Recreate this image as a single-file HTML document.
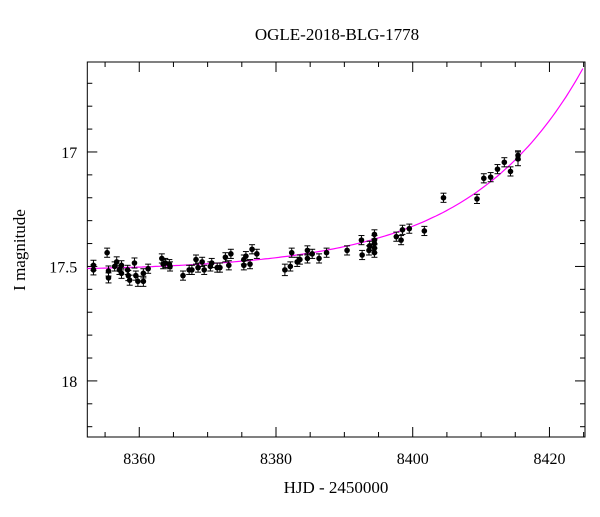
<!DOCTYPE html>
<html><head><meta charset="utf-8"><style>
body{margin:0;background:#fff}
svg text{font-family:"Liberation Serif",serif;fill:#000}
</style></head><body>
<svg id="chart" width="600" height="512">
<text x="337" y="40" text-anchor="middle" font-size="17">OGLE-2018-BLG-1778</text>
<text x="336" y="493" text-anchor="middle" font-size="17">HJD - 2450000</text>
<text transform="translate(25,250) rotate(-90)" text-anchor="middle" font-size="17">I magnitude</text>
<g id="axes"></g><g id="model"></g><g id="points"></g>
</svg>
<script>
const xTicks=[8360,8380,8400,8420];
const yTicks=[17,17.5,18];
const hjd=[8353.3,8353.3,8355.3,8355.5,8355.5,8356.4,8356.7,8357.1,8357.4,8357.4,8358.3,8358.4,8358.6,8359.3,8359.5,8359.8,8360.6,8360.6,8361.3,8363.3,8363.5,8363.8,8364.4,8364.5,8366.4,8367.3,8367.7,8368.3,8368.6,8369.2,8369.5,8370.4,8370.6,8371.4,8371.8,8372.6,8373.1,8373.4,8375.3,8375.3,8375.6,8376.2,8376.5,8377.2,8381.3,8382.1,8382.3,8383.1,8383.5,8384.6,8384.6,8385.3,8386.3,8387.4,8390.4,8392.5,8392.6,8393.6,8393.7,8394.4,8394.4,8394.4,8394.4,8394.4,8397.6,8398.3,8398.5,8399.5,8401.7,8404.5,8409.4,8410.4,8411.4,8412.4,8413.4,8414.3,8415.4,8415.4];
const mag=[17.495,17.515,17.44,17.52,17.55,17.5,17.48,17.515,17.495,17.53,17.515,17.54,17.56,17.485,17.54,17.565,17.53,17.565,17.51,17.465,17.49,17.485,17.49,17.5,17.54,17.515,17.515,17.47,17.505,17.48,17.515,17.5,17.485,17.505,17.505,17.46,17.495,17.445,17.47,17.495,17.455,17.49,17.425,17.445,17.515,17.5,17.44,17.48,17.47,17.43,17.465,17.445,17.465,17.44,17.43,17.385,17.45,17.43,17.41,17.36,17.385,17.4,17.42,17.44,17.37,17.385,17.34,17.335,17.345,17.2,17.205,17.115,17.11,17.075,17.045,17.085,17.015,17.03];
const err=[0.022,0.022,0.02,0.022,0.022,0.02,0.022,0.02,0.02,0.022,0.02,0.022,0.022,0.022,0.02,0.022,0.02,0.022,0.02,0.02,0.02,0.02,0.02,0.02,0.02,0.02,0.02,0.02,0.02,0.02,0.02,0.02,0.02,0.02,0.02,0.02,0.02,0.02,0.02,0.02,0.02,0.02,0.02,0.02,0.025,0.02,0.02,0.02,0.02,0.02,0.02,0.02,0.02,0.02,0.02,0.02,0.02,0.02,0.02,0.02,0.02,0.02,0.02,0.02,0.02,0.02,0.02,0.02,0.02,0.02,0.02,0.02,0.02,0.02,0.02,0.02,0.02,0.03];
const X0=87.3,X1=585,T0=8352.4,T1=8425.2,Y0=62,Y1=437,M0=16.607,M1=18.245;
const sx=t=>X0+(t-T0)/(T1-T0)*(X1-X0);
const sy=m=>Y0+(m-M0)/(M1-M0)*(Y1-Y0);
const NS="http://www.w3.org/2000/svg";
function mk(tag,parent,attrs){const e=document.createElementNS(NS,tag);for(const k in attrs)e.setAttribute(k,attrs[k]);parent.appendChild(e);return e;}
const axes=document.getElementById('axes');
const frame=mk('rect',axes,{x:X0,y:Y0,width:X1-X0,height:Y1-Y0,fill:'none',stroke:'#000','stroke-width':1});


for(let t=8355;t<=8425;t+=5){const x=sx(t);const L=(t%20===0)?10:5;
 const a=mk('line',axes,{x1:x,x2:x,y1:Y1,y2:Y1-L,stroke:'#000'});
 
 
 const b=mk('line',axes,{x1:x,x2:x,y1:Y0,y2:Y0+L,stroke:'#000'});
 
 }
xTicks.forEach(t=>{const e=mk('text',axes,{x:sx(t),y:Y1+27,'text-anchor':'middle','font-size':16});e.textContent=t;
 
 });
for(let i=17;i<=183;i++){const m=i/10;if(m<M0||m>M1)continue;const y=sy(m);const L=(i%5===0)?10:5;
 const a=mk('line',axes,{x1:X0,x2:X0+L,y1:y,y2:y,stroke:'#000'});
 
 
 const b=mk('line',axes,{x1:X1,x2:X1-L,y1:y,y2:y,stroke:'#000'});
 
 }
yTicks.forEach(m=>{const e=mk('text',axes,{x:X0-10,y:sy(m)+6,'text-anchor':'end','font-size':16});e.textContent=(m===17.5?'17.5':String(m));
 
 });
// model curve
let d='';for(let t=T0;t<=T1+0.01;t+=0.5){const m=17.52-0.89*Math.exp((t-8425)/16.5);d+=(d?'L':'M')+sx(t).toFixed(1)+','+sy(m).toFixed(1);}
const model=mk('path',document.getElementById('model'),{d:d,fill:'none',stroke:'#ff00ff','stroke-width':1.2});


const pts=document.getElementById('points');
hjd.forEach((t,i)=>{const x=sx(t),y=sy(mag[i]),ya=sy(mag[i]-err[i]),yb=sy(mag[i]+err[i]);
 const g=mk('g',pts,{});
 
 
 mk('line',g,{x1:x,x2:x,y1:ya,y2:yb,stroke:'#000'});
 mk('line',g,{x1:x-3,x2:x+3,y1:ya,y2:ya,stroke:'#000'});
 mk('line',g,{x1:x-3,x2:x+3,y1:yb,y2:yb,stroke:'#000'});
 mk('circle',g,{cx:x,cy:y,r:2.8,fill:'#000'});});
</script>
</body></html>
